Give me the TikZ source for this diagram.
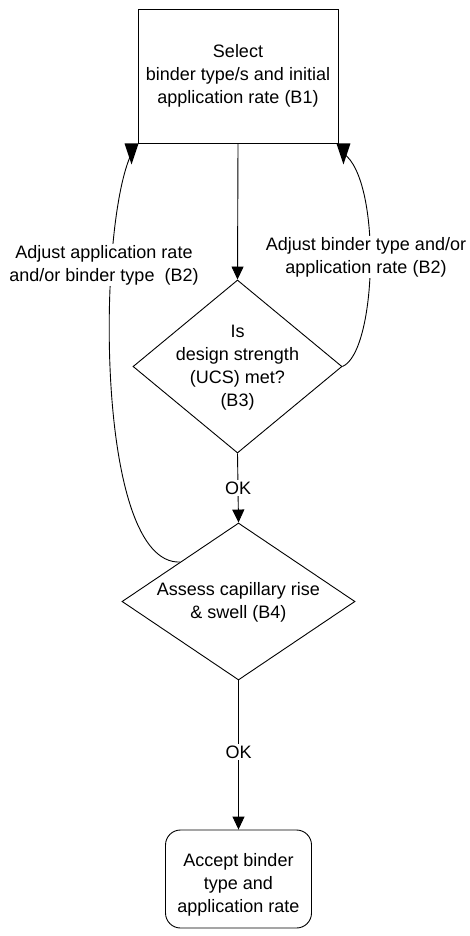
\documentclass[tikz,border=0pt]{standalone}
\usepackage{fontspec}
\setmainfont{Liberation Sans}
\usetikzlibrary{shapes.geometric,arrows.meta}
\begin{document}
\begin{tikzpicture}[x=1pt,y=-1pt,
  txt/.style={font=\fontsize{18}{23}\selectfont, align=center, inner sep=0pt},
  ln/.style={line width=0.9pt},
  arr/.style={ln, -{Triangle[length=13pt,width=12pt]}},
  tri/.style={fill=black},
  lbl/.style={txt, fill=white, inner sep=1.5pt},
  dia/.style={diamond, draw, ln, inner sep=0pt}]
\useasboundingbox (0,0) rectangle (470,936);
\fill[white] (0,0) rectangle (470,936);

\node[draw, ln, minimum width=200pt, minimum height=134pt, inner sep=0pt, txt] (b1) at (238,76)
  {Select\\binder type/s and initial\\application rate (B1)};

\node[dia, minimum width=209pt, minimum height=173pt] (d1) at (237.5,366.5) {};
\node[txt] (t2) at (237.5,367.5) {Is\\design strength\\(UCS) met?\\(B3)};

\node[dia, minimum width=233pt, minimum height=157pt] (d2) at (238.5,601.5) {};
\node[txt] (t3) at (238.5,602.5) {Assess capillary rise\\\& swell (B4)};

\node[draw, ln, rounded corners=15pt, minimum width=146pt, minimum height=98pt] (b2) at (238.5,879) {};
\node[txt] (t4) at (238.5,885) {Accept binder\\type and\\application rate};

\draw[arr] (b1.south) -- (d1.north);
\draw[arr] (d1.south) -- node[lbl] (ok1) {OK} (d2.north);
\draw[arr] (d2.south) -- node[lbl, pos=0.48] (ok2) {OK} (b2.north);

% back-loop arrowheads (drawn as in the reference: base on the box edge)
\coordinate (lt) at ([xshift=-6pt,yshift=-10pt]b1.south west);
\coordinate (rt) at ([xshift=5pt,yshift=-10pt]b1.south east);
\fill[tri] ([xshift=-13pt]b1.south west) -- ([xshift=1pt]b1.south west) -- ([yshift=-11pt]lt) -- cycle;
\fill[tri] ([xshift=-2pt]b1.south east) -- ([xshift=12pt]b1.south east) -- ([yshift=-11pt]rt) -- cycle;
\draw[ln] (d2.north west) .. controls (95,565) and (97,225) .. (lt);
\draw[ln] (d1.east) .. controls (377,352) and (382,180) .. (rt);

\node[lbl] (la) at (104,265) {Adjust application rate\\and/or binder type\ \ (B2)};
\node[lbl] (ra) at (366,257) {Adjust binder type and/or\\application rate (B2)};
\end{tikzpicture}
\end{document}
